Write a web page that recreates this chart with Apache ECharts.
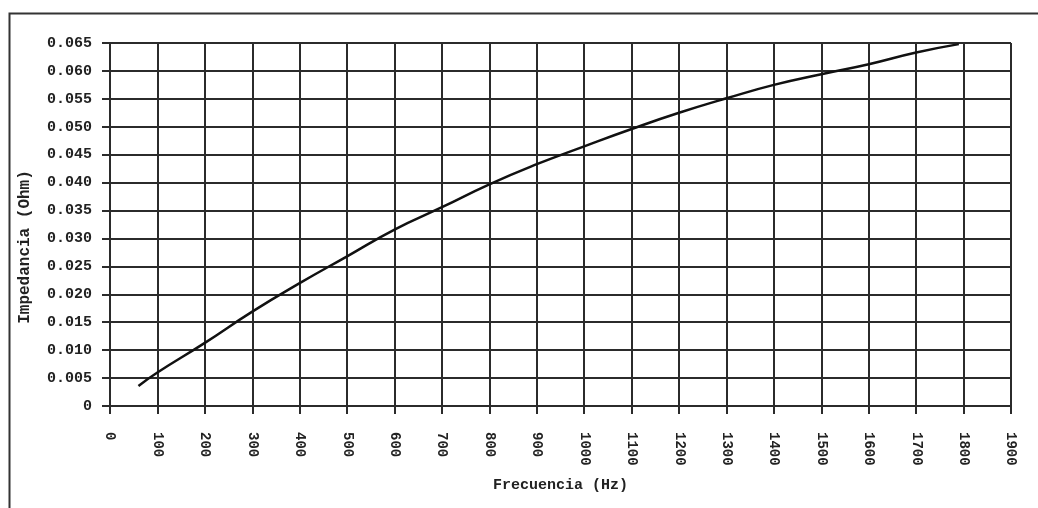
<!DOCTYPE html>
<html>
<head>
<meta charset="utf-8">
<script src="https://cdn.jsdelivr.net/npm/echarts@6/dist/echarts.min.js"></script>
<style>
html,body{margin:0;padding:0;background:#fff;}
#chart{width:1038px;height:508px;}
</style>
</head>
<body>
<div id="chart"></div>
<script>
// Frequency (Hz)
var frecuencia = [60, 100, 200, 300, 400, 500, 600, 700, 800, 900, 1000, 1100, 1200, 1300, 1400, 1500, 1600, 1700, 1790];
// Impedance (Ohm)
var impedancia = [0.0036, 0.0060, 0.0113, 0.0169, 0.0220, 0.0268, 0.0316, 0.0356, 0.0397, 0.0433, 0.0465, 0.0496, 0.0525, 0.0551, 0.0575, 0.0594, 0.0612, 0.0633, 0.0648];

var xTitle = 'Frecuencia (Hz)';
var yTitle = 'Impedancia (Ohm)';

var seriesData = frecuencia.map(function (f, i) { return [f, impedancia[i]]; });

var GRID = '#2b2b2b';
var FONT = '"Liberation Mono", "DejaVu Sans Mono", monospace';

var chart = echarts.init(document.getElementById('chart'), null, {renderer: 'canvas'});
chart.setOption({
  backgroundColor: '#ffffff',
  animation: false,
  grid: {left: 110, right: 27, top: 43, bottom: 102, containLabel: false},
  xAxis: {
    type: 'value', min: 0, max: 1900, interval: 100,
    name: xTitle, nameLocation: 'middle', nameGap: 72,
    nameTextStyle: {fontFamily: FONT, fontWeight: 'bold', fontSize: 15, color: '#222'},
    axisLine: {show: true, lineStyle: {color: GRID, width: 2}},
    axisTick: {show: true, inside: false, length: 8, lineStyle: {color: GRID, width: 2}},
    axisLabel: {rotate: -90, margin: 26, fontFamily: FONT, fontWeight: 'bold', fontSize: 14, color: '#222',
      formatter: function (v) { return String(Math.round(v)); }},
    splitLine: {show: true, lineStyle: {color: GRID, width: 2}}
  },
  yAxis: {
    type: 'value', min: 0, max: 0.065, interval: 0.005,
    axisLine: {show: true, lineStyle: {color: GRID, width: 2}},
    axisTick: {show: true, inside: false, length: 8, lineStyle: {color: GRID, width: 2}},
    axisLabel: {
      margin: 18, fontFamily: FONT, fontWeight: 'bold', fontSize: 15, color: '#222',
      formatter: function (v) { return Math.abs(v) < 1e-9 ? '0' : v.toFixed(3); }
    },
    splitLine: {show: true, lineStyle: {color: GRID, width: 2}}
  },
  graphic: [
    {type: 'rect', left: 7, top: 11, shape: {x: 0, y: 0, width: 1060, height: 520},
     style: {fill: 'none', stroke: '#333', lineWidth: 2}, silent: true},
    {type: 'text', x: 25, y: 247, rotation: Math.PI / 2,
     style: {text: yTitle, fontFamily: FONT, fontWeight: 'bold', fontSize: 16, fill: '#222',
             textAlign: 'center', textVerticalAlign: 'middle'}}
  ],
  series: [{
    type: 'line', data: seriesData, showSymbol: false, smooth: true,
    lineStyle: {color: '#111', width: 2.5}
  }]
});
</script>
</body>
</html>
